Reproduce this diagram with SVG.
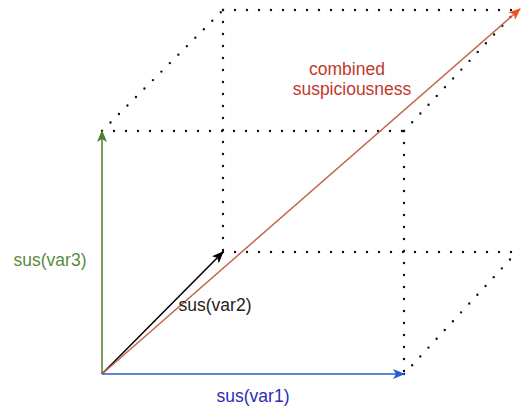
<svg xmlns="http://www.w3.org/2000/svg" width="522" height="409" viewBox="0 0 522 409">
  <style>
    .dot { fill: none; stroke: #111; stroke-width: 2.4; stroke-dasharray: 0 12; stroke-linecap: round; }
    .lbl { font-family: "Liberation Sans", Arial, Helvetica, sans-serif; font-size: 17.5px; text-anchor: middle; }
  </style>
  <defs>
    <marker id="hBlue" viewBox="0 0 12 10" refX="11" refY="5" markerWidth="12" markerHeight="10" markerUnits="userSpaceOnUse" orient="auto">
      <path d="M0,0 L12,5 L0,10 L3,5 Z" fill="#1f5fd1"/>
    </marker>
    <marker id="hGreen" viewBox="0 0 12 10" refX="11" refY="5" markerWidth="12" markerHeight="10" markerUnits="userSpaceOnUse" orient="auto">
      <path d="M0,0 L12,5 L0,10 L3,5 Z" fill="#4d7d2f"/>
    </marker>
    <marker id="hBlack" viewBox="0 0 12 10" refX="11" refY="5" markerWidth="12" markerHeight="10" markerUnits="userSpaceOnUse" orient="auto">
      <path d="M0,0 L12,5 L0,10 L3,5 Z" fill="#000"/>
    </marker>
    <marker id="hRed" viewBox="0 0 12 10" refX="11" refY="5" markerWidth="12" markerHeight="10" markerUnits="userSpaceOnUse" orient="auto">
      <path d="M0,0 L12,5 L0,10 L3,5 Z" fill="#f0501e"/>
    </marker>
  </defs>
  <rect width="522" height="409" fill="#fff"/>
  <g id="cube">
    <line class="dot" x1="223" y1="10" x2="518" y2="10"/>
    <line class="dot" x1="102" y1="131" x2="223" y2="10"/>
    <line class="dot" x1="223" y1="10" x2="223" y2="253"/>
    <line class="dot" x1="102" y1="131" x2="405" y2="131"/>
    <line class="dot" x1="404" y1="131" x2="517" y2="10"/>
    <line class="dot" x1="404" y1="131" x2="404" y2="375"/>
    <line class="dot" x1="223" y1="252" x2="518" y2="252"/>
    <line class="dot" x1="404" y1="374" x2="517" y2="252"/>
  </g>
  <g id="connectors">
    <line x1="102" y1="374" x2="404" y2="374" stroke="#1f5fd1" stroke-width="1.5" marker-end="url(#hBlue)"/>
    <line x1="102" y1="374" x2="102" y2="131" stroke="#4d7d2f" stroke-width="1.5" marker-end="url(#hGreen)"/>
    <line x1="102" y1="374" x2="223" y2="252" stroke="#000" stroke-width="1.5" marker-end="url(#hBlack)"/>
    <line x1="102" y1="374" x2="520" y2="9" stroke="#c46650" stroke-width="1.5" marker-end="url(#hRed)"/>
  </g>
  <g id="label-var1">
    <text class="lbl" x="253" y="402" fill="#2b2bb8">sus(var1)</text>
  </g>
  <g id="label-var2">
    <text class="lbl" x="215" y="311" fill="#222">sus(var2)</text>
  </g>
  <g id="label-var3">
    <text class="lbl" x="50" y="266" fill="#5b8a3f">sus(var3)</text>
  </g>
  <g id="label-combined">
    <text class="lbl" x="347" y="75" fill="#c0392b">combined</text>
    <text class="lbl" x="352" y="95" fill="#c0392b">suspiciousness</text>
  </g>
</svg>
